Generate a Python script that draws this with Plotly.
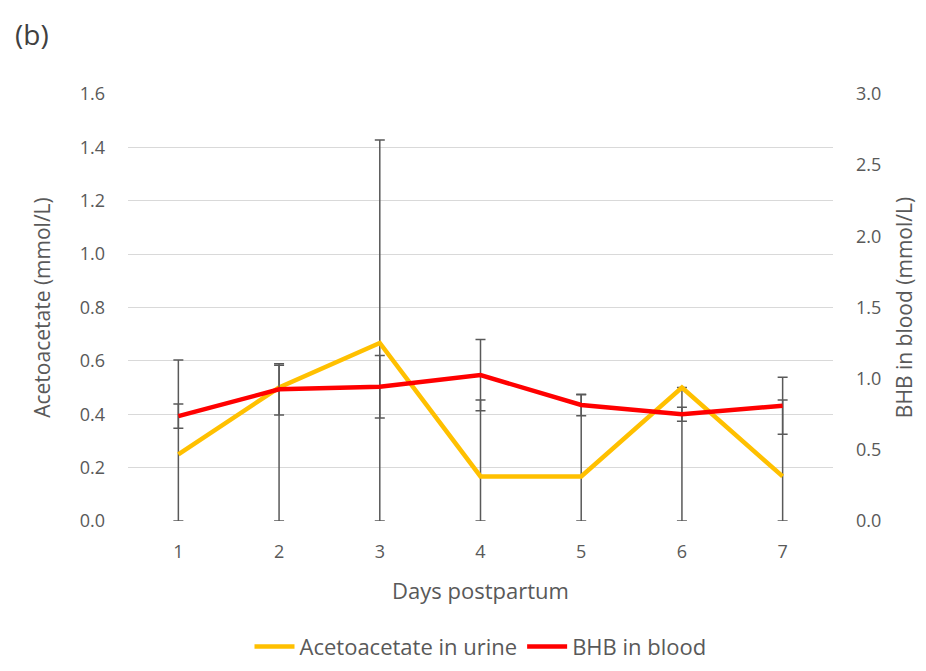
import plotly.graph_objects as go

days = [1, 2, 3, 4, 5, 6, 7]
aca_urine = [0.25, 0.5, 0.667, 0.167, 0.167, 0.5, 0.167]
aca_plus = [0.353, 0.084, 0.761, 0.286, 0.306, 0.0, 0.286]
aca_minus = [0.25, 0.5, 0.667, 0.167, 0.167, 0.5, 0.167]
bhb_blood = [0.737, 0.925, 0.943, 1.025, 0.815, 0.75, 0.81]
bhb_err = [0.085, 0.18, 0.22, 0.25, 0.075, 0.049, 0.2]

FONT = "Open Sans, sans-serif"
GREY = "#595959"

fig = go.Figure()
fig.add_trace(go.Scatter(
    x=days, y=aca_urine, mode="lines", name="Acetoacetate in urine",
    line=dict(color="#FFC000", width=4.5),
    error_y=dict(type="data", symmetric=False, array=aca_plus, arrayminus=aca_minus,
                 color=GREY, thickness=1.5, width=5),
    yaxis="y"))
fig.add_trace(go.Scatter(
    x=days, y=bhb_blood, mode="lines", name="BHB in blood",
    line=dict(color="#FF0000", width=4.5),
    error_y=dict(type="data", array=bhb_err, color=GREY, thickness=1.5, width=5),
    yaxis="y2"))

# page has an 8px body margin; figure is sized so it fills the 926x671 window
fig.update_layout(
    width=910, height=655,
    margin=dict(l=120, r=85, t=86, b=142, autoexpand=False),
    paper_bgcolor="white", plot_bgcolor="white",
    font=dict(family=FONT, color=GREY, size=18),
    xaxis=dict(range=[0.5, 7.5], tickvals=days, showgrid=False, zeroline=False,
               showline=False, ticks="", ticklabelstandoff=18,
               title=dict(text="Days postpartum", font=dict(size=22, color=GREY), standoff=21),
               tickfont=dict(size=18, color=GREY)),
    yaxis=dict(range=[0, 1.6], dtick=0.2, tickformat=".1f", showgrid=True,
               gridcolor="#d9d9d9", gridwidth=1, zeroline=False, showline=False,
               ticks="", ticklabelstandoff=22,
               title=dict(text="Acetoacetate (mmol/L)", font=dict(size=21, color=GREY), standoff=23),
               tickfont=dict(size=18, color=GREY)),
    yaxis2=dict(range=[0, 3.0], dtick=0.5, tickformat=".1f", overlaying="y", side="right",
                showgrid=False, zeroline=False, showline=False, ticks="",
                ticklabelstandoff=22,
                title=dict(text="BHB in blood (mmol/L)", font=dict(size=21, color=GREY), standoff=29),
                tickfont=dict(size=18, color=GREY)),
    legend=dict(orientation="h", x=0.5, xanchor="center", yref="container", y=0.025,
                yanchor="middle", font=dict(size=22, color=GREY), itemwidth=40,
                traceorder="normal"),
    annotations=[dict(text="(b)", xref="paper", yref="paper", x=-0.163, y=1.14,
                      xanchor="left", yanchor="middle", showarrow=False,
                      font=dict(size=28, color="#404040"))],
)

fig.write_html("out.html")
